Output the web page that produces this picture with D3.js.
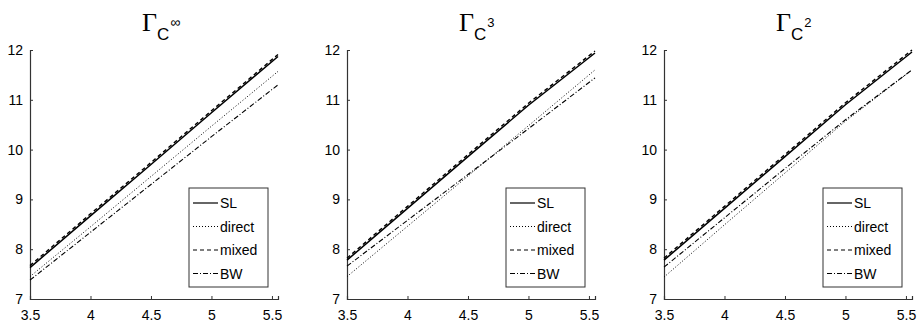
<!DOCTYPE html>
<html>
<head>
<meta charset="utf-8">
<script src="https://cdn.jsdelivr.net/npm/d3@7"></script>
<style>
  body { margin: 0; background: #fff; }
  svg { display: block; }
  text { font-family: "Liberation Sans", Arial, sans-serif; }
</style>
</head>
<body>
<div id="chart"></div>
<script>
// x positions shared by every curve
const xVals = [3.5, 4, 4.5, 5, 5.55];

// panel 1: Gamma_C^inf
const slInf     = [7.63, 8.67, 9.70, 10.74, 11.87];
const directInf = [7.45, 8.45, 9.46, 10.47, 11.57];
const mixedInf  = [7.67, 8.71, 9.74, 10.78, 11.91];
const bwInf     = [7.38, 8.34, 9.30, 10.26, 11.30];

// panel 2: Gamma_C^3
const sl3     = [7.78, 8.82, 9.86, 10.89, 11.94];
const direct3 = [7.45, 8.46, 9.47, 10.48, 11.60];
const mixed3  = [7.82, 8.86, 9.90, 10.93, 11.98];
const bw3     = [7.66, 8.58, 9.50, 10.42, 11.44];

// panel 3: Gamma_C^2
const sl2     = [7.78, 8.82, 9.86, 10.90, 11.96];
const direct2 = [7.44, 8.49, 9.53, 10.57, 11.60];
const mixed2  = [7.82, 8.86, 9.90, 10.94, 12.00];
const bw2     = [7.64, 8.63, 9.62, 10.60, 11.60];

const seriesNames = ["SL", "direct", "mixed", "BW"];
const superscripts = ["\u221E", "3", "2"];
const xTicks = [3.5, 4, 4.5, 5, 5.5];
const yTicks = [7, 8, 9, 10, 11, 12];

const panels = [
  [slInf, directInf, mixedInf, bwInf],
  [sl3, direct3, mixed3, bw3],
  [sl2, direct2, mixed2, bw2]
];

// line styles, same order as seriesNames
const styles = [
  { dash: null,      width: 1.5 },
  { dash: "1,2",     width: 1 },
  { dash: "4,3",     width: 1.4 },
  { dash: "5,2,1,2", width: 1.1 }
];

let W = 918, H = 324;
let svg = d3.select("#chart").append("svg")
  .attr("width", W).attr("height", H);

let plotW = 248, plotTop = 50, plotBottom = 299;
let lefts = [30, 347, 664];

panels.forEach(function(series, p) {
  let x = d3.scaleLinear().domain([3.5, 5.55]).range([0, plotW]);
  let y = d3.scaleLinear().domain([7, 12]).range([plotBottom, plotTop]);

  let g = svg.append("g").attr("transform", "translate(" + lefts[p] + ",0)");

  // axes, ticks pointing inward like matlab
  let xAxis = g.append("g")
    .attr("transform", "translate(0," + plotBottom + ")")
    .call(d3.axisBottom(x).tickValues(xTicks).tickSize(-3).tickPadding(8)
      .tickFormat(d3.format("")));
  let yAxis = g.append("g")
    .call(d3.axisLeft(y).tickValues(yTicks).tickSize(-3).tickPadding(7)
      .tickFormat(d3.format("d")));

  [xAxis, yAxis].forEach(function(a) {
    a.select(".domain").attr("stroke", "#333").attr("stroke-width", 1.2);
    a.selectAll(".tick line").attr("stroke", "#333");
    a.selectAll(".tick text")
      .attr("fill", "#000")
      .style("font-size", "14px")
      .style("font-family", "'Liberation Sans', Arial, sans-serif");
  });
  xAxis.selectAll(".tick text").attr("dy", "0.9em");

  // curves
  let line = d3.line()
    .x(function(d, i) { return x(xVals[i]); })
    .y(function(d) { return y(d); });

  series.forEach(function(vals, s) {
    g.append("path")
      .datum(vals)
      .attr("fill", "none")
      .attr("stroke", "#000")
      .attr("stroke-width", styles[s].width)
      .attr("stroke-dasharray", styles[s].dash)
      .attr("d", line);
  });

  // title: Gamma with subscript C and superscript
  let title = g.append("text")
    .attr("x", plotW / 2 - 12)
    .attr("y", 31);
  title.append("tspan")
    .style("font-family", "'Liberation Serif', 'Times New Roman', serif")
    .style("font-size", "26px")
    .text("\u0393");
  title.append("tspan")
    .attr("dy", 9)
    .style("font-size", "17px")
    .text("C");
  title.append("tspan")
    .attr("dy", -13)
    .attr("dx", 1)
    .style("font-size", p === 0 ? "14px" : "13px")
    .text(superscripts[p]);

  // legend box
  let lg = g.append("g").attr("transform", "translate(159,188)");
  lg.append("rect")
    .attr("width", 79).attr("height", 99)
    .attr("fill", "#fff").attr("stroke", "#333").attr("stroke-width", 1);
  seriesNames.forEach(function(name, s) {
    let ly = 15 + s * 23.5;
    lg.append("line")
      .attr("x1", 4).attr("x2", 29)
      .attr("y1", ly).attr("y2", ly)
      .attr("stroke", "#000")
      .attr("stroke-width", Math.min(styles[s].width, 1.2))
      .attr("stroke-dasharray", styles[s].dash);
    lg.append("text")
      .attr("x", 31).attr("y", ly + 5)
      .style("font-size", "14px")
      .text(name);
  });
});
</script>
</body>
</html>
